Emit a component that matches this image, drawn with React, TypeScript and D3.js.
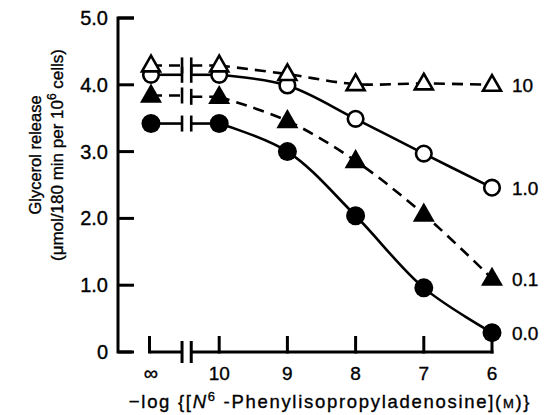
import React from "react";
import * as d3 from "d3";

const xCategories = ["∞", "10", "9", "8", "7", "6"];
const xValues = [11, 10, 9, 8, 7, 6];
const yTicks = [0, 1, 2, 3, 4, 5];
const yTickLabels = ["0", "1.0", "2.0", "3.0", "4.0", "5.0"];

const series0 = [3.42, 3.42, 3.0, 2.04, 0.96, 0.29];
const series01 = [3.84, 3.82, 3.46, 2.86, 2.06, 1.1];
const series1 = [4.15, 4.15, 3.99, 3.49, 2.97, 2.46];
const series10 = [4.29, 4.29, 4.16, 4.01, 4.02, 4.0];

const seriesList = [
  { name: "0.0", values: series0, marker: "circle", filled: true, dashed: false },
  { name: "0.1", values: series01, marker: "triangle", filled: true, dashed: true },
  { name: "1.0", values: series1, marker: "circle", filled: false, dashed: false },
  { name: "10", values: series10, marker: "triangle", filled: false, dashed: true },
];

const W = 545;
const H = 415;
const FONT = "'Liberation Sans', Arial, Helvetica, sans-serif";

export default function App() {
  const x = d3.scaleLinear().domain([11, 6]).range([151, 492]);
  const y = d3.scaleLinear().domain([0, 5]).range([352, 18]);
  const axisX = 118;
  const brk1 = x(10.545);
  const brk2 = x(10.41);
  const sw = 2.6;
  const ts = { stroke: "#000", strokeWidth: 0.35 };

  const curve = d3
    .line<[number, number]>()
    .x((d) => x(d[0]))
    .y((d) => y(d[1]))
    .curve(d3.curveCatmullRom.alpha(0.5));

  const tri = (cx: number, cy: number, s: number) => {
    const h = s * 0.87;
    return `M${cx},${cy - h * 0.62} L${cx + s / 2},${cy + h * 0.38} L${cx - s / 2},${cy + h * 0.38} Z`;
  };

  return (
    <svg width={W} height={H} style={{ display: "block", position: "absolute", left: 0, top: 0 }} fontFamily={FONT}>
      <rect width={W} height={H} fill="#fff" />
      {/* Y axis */}
      <path
        d={`M${axisX + 16},${y(5)} H${axisX} V${y(0)} H${axisX + 14}`}
        fill="none"
        stroke="#000"
        strokeWidth={3}
      />
      {yTicks.map((t, i) => (
        <g key={t}>
          <line x1={axisX} x2={axisX + 16} y1={y(t)} y2={y(t)} stroke="#000" strokeWidth={3} />
          <text x={108} y={y(t) + 7} textAnchor="end" fontSize={20} fill="#000" {...ts}>
            {yTickLabels[i]}
          </text>
        </g>
      ))}
      {/* X axis */}
      <line x1={x(11) - 1} x2={brk1} y1={y(0)} y2={y(0)} stroke="#000" strokeWidth={3} />
      <line x1={brk2} x2={x(6) + 1.5} y1={y(0)} y2={y(0)} stroke="#000" strokeWidth={3} />
      <line x1={brk1} x2={brk1} y1={y(0) - 11} y2={y(0) + 11} stroke="#000" strokeWidth={3} />
      <line x1={brk2} x2={brk2} y1={y(0) - 11} y2={y(0) + 11} stroke="#000" strokeWidth={3} />
      {xValues.map((v, i) => (
        <g key={v}>
          <line
            x1={x(v) - (i === 0 ? 1.5 : 0)}
            x2={x(v) - (i === 0 ? 1.5 : 0)}
            y1={y(0) + 1.5}
            y2={y(0) - 16}
            stroke="#000"
            strokeWidth={3}
          />
          <text x={x(v)} y={380} textAnchor="middle" fontSize={i === 0 ? 20 : 19} fill="#000" {...ts}>
            {xCategories[i]}
          </text>
        </g>
      ))}
      {/* Axis titles */}
      <text x={330} y={408} textAnchor="middle" fontSize={18.5} letterSpacing={1.7} fill="#000" {...ts}>
        <tspan>−log {"{"}[</tspan>
        <tspan fontStyle="italic">N</tspan>
        <tspan fontSize={13} dy={-7}>6</tspan>
        <tspan dy={7}> -Phenylisopropyladenosine](</tspan>
        <tspan fontSize={13}>M</tspan>
        <tspan>){"}"}</tspan>
      </text>
      <g transform={`translate(41,155) rotate(-90)`}>
        <text x={0} y={0} textAnchor="middle" fontSize={16.5} fill="#000" {...ts}>
          Glycerol release
        </text>
        <text x={0} y={22} textAnchor="middle" fontSize={17} fill="#000" {...ts}>
          <tspan>(μmol/180 min per 10</tspan>
          <tspan fontSize={12} dy={-7}>6</tspan>
          <tspan dy={7}> cells)</tspan>
        </text>
      </g>
      {/* Series */}
      {seriesList.map((s) => {
        const pts: [number, number][] = xValues.slice(1).map((v, i) => [v, s.values[i + 1]]);
        const dash = s.dashed ? "11 7" : undefined;
        const yb = y(s.values[0]);
        const yb2 = y(s.values[1]);
        return (
          <g key={s.name}>
            <line x1={x(11)} x2={brk1} y1={yb} y2={yb} stroke="#000" strokeWidth={sw} strokeDasharray={dash} />
            <line x1={brk2} x2={x(10)} y1={yb2} y2={yb2} stroke="#000" strokeWidth={sw} strokeDasharray={dash} />
            <line x1={brk1} x2={brk1} y1={yb - 8} y2={yb + 8} stroke="#000" strokeWidth={2.6} />
            <line x1={brk2} x2={brk2} y1={yb2 - 8} y2={yb2 + 8} stroke="#000" strokeWidth={2.6} />
            <path d={curve(pts) || ""} fill="none" stroke="#000" strokeWidth={sw} strokeDasharray={dash} />
          </g>
        );
      })}
      {seriesList.map((s) => (
        <g key={s.name + "m"}>
          {xValues.map((v, i) => {
            const cx = x(v);
            const cy = y(s.values[i]);
            if (s.marker === "circle") {
              return s.filled ? (
                <circle key={i} cx={cx} cy={cy} r={9.5} fill="#000" />
              ) : (
                <circle key={i} cx={cx} cy={cy} r={7.8} fill="#fff" stroke="#000" strokeWidth={2.6} />
              );
            }
            return s.filled ? (
              <path key={i} d={tri(cx, cy, 22)} fill="#000" />
            ) : (
              <path key={i} d={tri(cx, cy, 18)} fill="#fff" stroke="#000" strokeWidth={2.6} strokeLinejoin="miter" />
            );
          })}
          <text
            x={x(6) + 20}
            y={y(s.values[s.values.length - 1]) + 7}
            fontSize={19}
            fill="#000"
            {...ts}
          >
            {s.name}
          </text>
        </g>
      ))}
    </svg>
  );
}
